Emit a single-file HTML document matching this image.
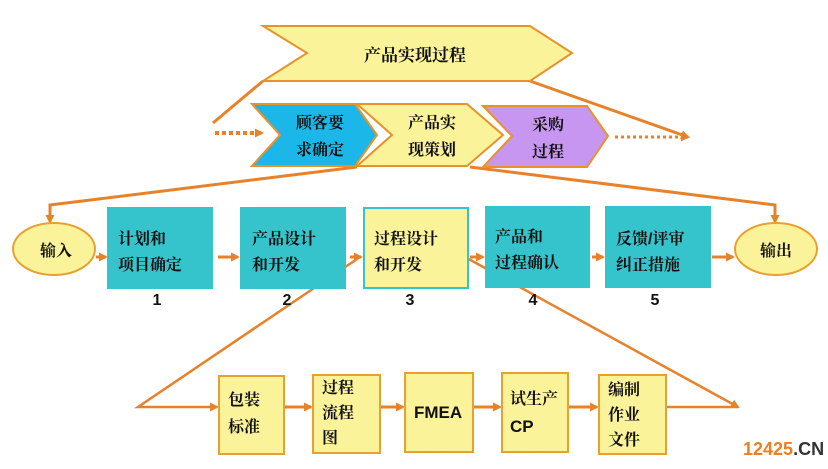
<!DOCTYPE html>
<html><head><meta charset="utf-8"><style>
html,body{margin:0;padding:0;background:#fff}
svg{display:block}
text{font-family:"Liberation Sans","Noto Serif CJK SC","Noto Sans CJK SC",sans-serif;font-weight:bold;fill:#111}
</style></head><body>
<svg width="828" height="469" viewBox="0 0 828 469" xmlns="http://www.w3.org/2000/svg">
<defs>
<marker id="a" markerWidth="9" markerHeight="9" refX="7" refY="4.5" orient="auto" markerUnits="userSpaceOnUse"><path d="M0,0 L9,4.5 L0,9 Z" fill="#e8822a"/></marker>
</defs>
<g stroke="#e8822a" stroke-width="3" fill="none">
<polyline points="263,81 213,123"/>
<polyline points="530,81 688,137" marker-end="url(#a)"/>
<polyline points="357,167 50,205 50,222" marker-end="url(#a)"/>
<polyline points="470,167 775,205 775,222" marker-end="url(#a)"/>
<line x1="215" y1="133" x2="262" y2="133" stroke-dasharray="4,3" stroke-width="4" marker-end="url(#a)"/>
<line x1="615" y1="137" x2="688" y2="137" stroke-dasharray="3,3" marker-end="url(#a)"/>
<line x1="96" y1="257" x2="106" y2="257" marker-end="url(#a)"/>
<line x1="218" y1="257" x2="238" y2="257" marker-end="url(#a)"/>
<line x1="350" y1="257" x2="361" y2="257" marker-end="url(#a)"/>
<line x1="470" y1="257" x2="483" y2="257" marker-end="url(#a)"/>
<line x1="592" y1="257" x2="603" y2="257" marker-end="url(#a)"/>
<line x1="712" y1="257" x2="733" y2="257" marker-end="url(#a)"/>
<polyline points="360,257 138,407 217,407" stroke-width="2.5" marker-end="url(#a)"/>
<polyline points="465,257 738,407" stroke-width="2.5" marker-end="url(#a)"/>
<line x1="666" y1="407" x2="738" y2="407" stroke-width="2.5"/>
<line x1="284" y1="407" x2="311" y2="407" marker-end="url(#a)"/>
<line x1="380" y1="407" x2="403" y2="407" marker-end="url(#a)"/>
<line x1="473" y1="407" x2="500" y2="407" marker-end="url(#a)"/>
<line x1="568" y1="407" x2="597" y2="407" marker-end="url(#a)"/>
</g>
<polygon points="263,26 530,26 572,53 530,81 263,81 307,53" fill="#fbf39a" stroke="#e8922a" stroke-width="2"/>
<text x="415" y="61" font-size="17" text-anchor="middle">产品实现过程</text>
<polygon points="252,104 355,104 377,135 355,166 252,166 280,135" fill="#1ab7e8" stroke="#e8922a" stroke-width="2"/>
<polygon points="357,104 467,104 503,135 467,166 357,166 392,135" fill="#fbf39a" stroke="#e8922a" stroke-width="2"/>
<polygon points="483,106 587,106 608,136 587,167 483,167 512,136" fill="#c696f0" stroke="#e8922a" stroke-width="2"/>
<g font-size="16" text-anchor="middle">
<text x="320" y="128">顾客要</text><text x="320" y="155">求确定</text>
<text x="432" y="128">产品实</text><text x="432" y="155">现策划</text>
<text x="548" y="130">采购</text><text x="548" y="157">过程</text>
</g>
<ellipse cx="54" cy="249" rx="41" ry="26" fill="#fbf39a" stroke="#e8a030" stroke-width="2"/>
<ellipse cx="776" cy="249" rx="41" ry="26" fill="#fbf39a" stroke="#e8a030" stroke-width="2"/>
<g fill="#35c4cc">
<rect x="107" y="207" width="106" height="82"/>
<rect x="240" y="207" width="106" height="82"/>
<rect x="485" y="206" width="105" height="82"/>
<rect x="605" y="206" width="106" height="82"/>
</g>
<rect x="364" y="208" width="104" height="80" fill="#fbf39a" stroke="#35c4cc" stroke-width="2"/>
<g font-size="16">
<text x="40" y="256">输入</text><text x="760" y="256">输出</text>
<text x="118" y="244">计划和</text><text x="118" y="270">项目确定</text>
<text x="252" y="244">产品设计</text><text x="252" y="270">和开发</text>
<text x="374" y="244">过程设计</text><text x="374" y="270">和开发</text>
<text x="495" y="242">产品和</text><text x="495" y="268">过程确认</text>
<text x="616" y="244">反馈/评审</text><text x="616" y="270">纠正措施</text>
</g>
<g font-size="16" text-anchor="middle">
<text x="157" y="305">1</text><text x="287" y="305">2</text><text x="410" y="305">3</text><text x="533" y="305">4</text><text x="655" y="305">5</text>
</g>
<g fill="#fbf39a" stroke="#e8a030" stroke-width="2">
<rect x="219" y="376" width="65" height="78"/>
<rect x="313" y="375" width="67" height="78"/>
<rect x="405" y="373" width="68" height="79"/>
<rect x="502" y="373" width="66" height="79"/>
<rect x="599" y="375" width="67" height="79"/>
</g>
<g font-size="16">
<text x="228" y="405">包装</text><text x="228" y="432">标准</text>
<text x="322" y="393">过程</text><text x="322" y="418">流程</text><text x="322" y="443">图</text>
<text x="414" y="418" font-size="17">FMEA</text>
<text x="510" y="404">试生产</text><text x="510" y="432" font-size="17">CP</text>
<text x="608" y="395">编制</text><text x="608" y="420">作业</text><text x="608" y="445">文件</text>
</g>
<text x="743" y="455" font-size="18"><tspan fill="#f07d1e">12425</tspan><tspan fill="#333">.CN</tspan></text>
</svg>
</body></html>
